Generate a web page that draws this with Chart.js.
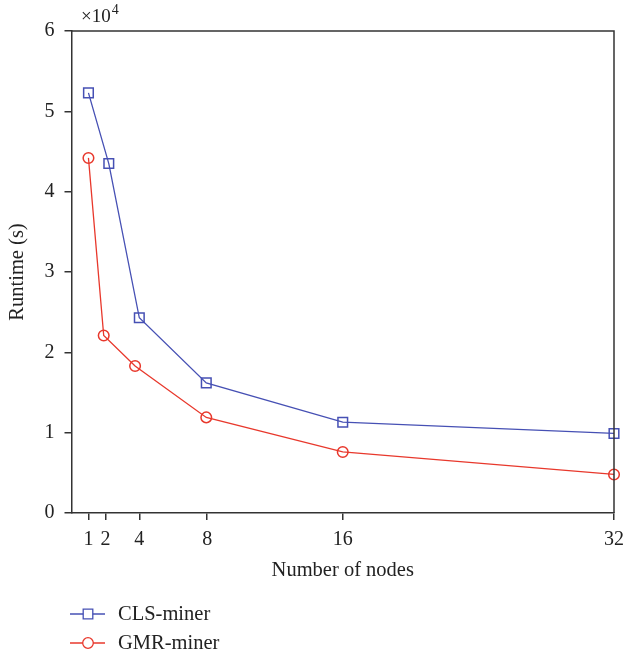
<!DOCTYPE html>
<html>
<head>
<meta charset="utf-8">
<script src="https://cdn.jsdelivr.net/npm/chart.js@4/dist/chart.umd.min.js"></script>
<style>
html,body{margin:0;padding:0;background:#fff;}
#wrap{width:623px;height:656px;position:relative;}
</style>
</head>
<body>
<div id="wrap"><canvas id="c" width="623" height="656"></canvas></div>
<script>
const xTicks = [1, 2, 4, 8, 16, 32];
const yTicks = [0, 1, 2, 3, 4, 5, 6];
const clsNodes = [1, 2.2, 4, 7.95, 16, 32];
const clsRuntime = [5.23, 4.35, 2.43, 1.62, 1.13, 0.99];
const gmrNodes = [1, 1.9, 3.75, 7.95, 16, 32];
const gmrRuntime = [4.42, 2.21, 1.83, 1.19, 0.76, 0.48];
const seriesNames = ['CLS-miner', 'GMR-miner'];
const BLUE = '#4650b4';
const RED = '#e8382c';
const AXIS = '#333333';
const FONT = "'Liberation Serif', 'DejaVu Serif', serif";

const framePlugin = {
  id: 'frame',
  afterDraw(chart) {
    const {ctx, chartArea: a} = chart;
    ctx.save();
    ctx.strokeStyle = AXIS;
    ctx.lineWidth = 1.5;
    ctx.beginPath();
    ctx.moveTo(a.left, a.top);
    ctx.lineTo(a.right, a.top);
    ctx.lineTo(a.right, a.bottom);
    ctx.stroke();
    // exponent label
    ctx.fillStyle = '#222';
    ctx.textBaseline = 'alphabetic';
    ctx.textAlign = 'left';
    ctx.font = '19px ' + FONT;
    ctx.fillText('\u00d710', 81, 22);
    const w = ctx.measureText('\u00d710').width;
    ctx.font = '14px ' + FONT;
    ctx.fillText('4', 81 + w + 1, 14);
    // legend
    const items = [
      {name: seriesNames[0], color: BLUE, style: 'rect', y: 614},
      {name: seriesNames[1], color: RED, style: 'circle', y: 643}
    ];
    items.forEach(it => {
      ctx.strokeStyle = it.color;
      ctx.lineWidth = 1.3;
      ctx.beginPath();
      ctx.moveTo(70, it.y);
      ctx.lineTo(105, it.y);
      ctx.stroke();
      ctx.fillStyle = '#fff';
      ctx.beginPath();
      if (it.style === 'rect') {
        ctx.rect(88 - 4.8, it.y - 4.8, 9.6, 9.6);
      } else {
        ctx.arc(88, it.y, 5.3, 0, Math.PI * 2);
      }
      ctx.fill();
      ctx.stroke();
      ctx.fillStyle = '#222';
      ctx.font = '20.5px ' + FONT;
      ctx.textBaseline = 'middle';
      ctx.fillText(it.name, 118, it.y + 1);
    });
    ctx.restore();
  }
};

new Chart(document.getElementById('c'), {
  type: 'line',
  data: {
    datasets: [
      {
        label: seriesNames[0],
        data: clsNodes.map((x, i) => ({x: x, y: clsRuntime[i]})),
        borderColor: BLUE,
        backgroundColor: 'rgba(255,255,255,1)',
        borderWidth: 1.3,
        pointStyle: 'rect',
        pointRadius: 6.8,
        pointBorderWidth: 1.5,
        pointBackgroundColor: 'rgba(255,255,255,0)',
        pointBorderColor: BLUE,
        tension: 0,
        clip: false
      },
      {
        label: seriesNames[1],
        data: gmrNodes.map((x, i) => ({x: x, y: gmrRuntime[i]})),
        borderColor: RED,
        backgroundColor: 'rgba(255,255,255,1)',
        borderWidth: 1.3,
        pointStyle: 'circle',
        pointRadius: 5.3,
        pointBorderWidth: 1.5,
        pointBackgroundColor: 'rgba(255,255,255,0)',
        pointBorderColor: RED,
        tension: 0,
        clip: false
      }
    ]
  },
  options: {
    responsive: false,
    animation: false,
    layout: {padding: {left: 0, right: 9, top: 31, bottom: 73}},
    plugins: {legend: {display: false}, tooltip: {enabled: false}},
    scales: {
      x: {
        type: 'linear',
        min: 0,
        max: 32,
        afterBuildTicks(s) { s.ticks = xTicks.map(v => ({value: v})); },
        afterFit(s) { s.height = 70; s.paddingLeft = 0; s.paddingRight = 0; },
        ticks: {color: '#222', font: {family: FONT, size: 20}, padding: 8, maxRotation: 0, autoSkip: false},
        grid: {drawOnChartArea: false, tickLength: 7, color: AXIS, lineWidth: 1.5},
        border: {display: true, color: AXIS, width: 1.5},
        title: {display: true, text: 'Number of nodes', color: '#222', font: {family: FONT, size: 20.5}, padding: {top: 0, bottom: 0}}
      },
      y: {
        type: 'linear',
        min: 0,
        max: 6,
        afterBuildTicks(s) { s.ticks = yTicks.map(v => ({value: v})); },
        afterFit(s) { s.width = 71.5; s.paddingTop = 0; s.paddingBottom = 0; },
        ticks: {color: '#222', font: {family: FONT, size: 20}, padding: 10},
        grid: {drawOnChartArea: false, tickLength: 7, color: AXIS, lineWidth: 1.5},
        border: {display: true, color: AXIS, width: 1.5},
        title: {display: true, text: 'Runtime (s)', color: '#222', font: {family: FONT, size: 20.5}, padding: {top: 5, bottom: 0}}
      }
    }
  },
  plugins: [framePlugin]
});
</script>
</body>
</html>
